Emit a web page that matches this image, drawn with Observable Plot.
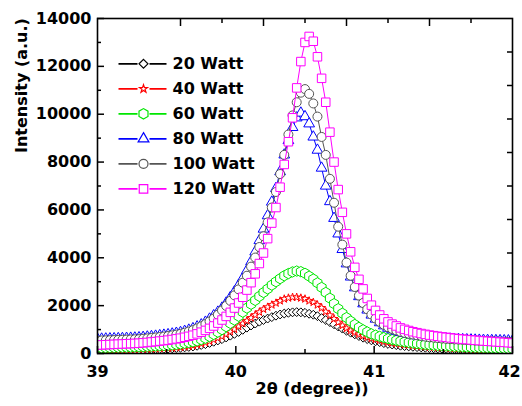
<!DOCTYPE html>
<html><head><meta charset="utf-8">
<script src="https://cdn.jsdelivr.net/npm/d3@7"></script>
<script src="https://cdn.jsdelivr.net/npm/@observablehq/plot@0.6"></script>
<style>
html,body{margin:0;padding:0;background:#fff;overflow:hidden;}
#chart{width:522px;height:406px;}
</style></head><body><div id="chart"></div>
<script>
const twoTheta = [39.00,39.03,39.06,39.09,39.12,39.15,39.18,39.21,39.24,39.27,
39.30,39.33,39.36,39.39,39.42,39.45,39.48,39.51,39.54,39.57,
39.60,39.63,39.66,39.69,39.72,39.75,39.78,39.81,39.84,39.87,
39.90,39.93,39.96,39.99,40.02,40.05,40.08,40.11,40.14,40.17,
40.20,40.23,40.26,40.29,40.32,40.35,40.38,40.41,40.44,40.47,
40.50,40.53,40.56,40.59,40.62,40.65,40.68,40.71,40.74,40.77,
40.80,40.83,40.86,40.89,40.92,40.95,40.98,41.01,41.04,41.07,
41.10,41.13,41.16,41.19,41.22,41.25,41.28,41.31,41.34,41.37,
41.40,41.43,41.46,41.49,41.52,41.55,41.58,41.61,41.64,41.67,
41.70,41.73,41.76,41.79,41.82,41.85,41.88,41.91,41.94,41.97,
42.00];

const w20 = [120,123,126,129,132,135,138,141,144,147,
150,157,165,172,180,187,195,203,215,228,
240,256,274,292,322,355,390,440,490,545,
600,670,745,820,900,990,1080,1170,1250,1330,
1400,1460,1520,1580,1630,1670,1700,1720,1730,1720,
1700,1660,1620,1560,1480,1400,1310,1220,1130,1040,
950,870,800,730,660,600,550,510,475,435,
400,375,350,325,310,295,280,266,254,242,
230,221,212,203,196,190,184,178,172,166,
160,157,154,151,148,145,142,139,136,133,
130];

const w40 = [130,134,138,142,146,150,154,158,162,166,
170,177,185,192,200,207,215,223,235,248,
260,282,306,332,370,410,455,510,580,650,
720,810,910,1010,1130,1250,1370,1490,1610,1730,
1850,1940,2030,2110,2200,2280,2320,2350,2350,2320,
2280,2200,2140,2030,1910,1750,1600,1450,1300,1170,
1050,960,880,805,740,680,630,590,550,510,
470,445,420,395,372,355,338,320,305,285,
270,261,252,243,234,225,216,207,202,196,
190,184,178,172,168,165,162,159,156,153,
150];

const w60 = [230,235,240,245,250,255,260,265,270,275,
280,288,297,306,315,325,334,345,362,381,
400,428,460,490,528,580,640,710,800,895,
1000,1125,1260,1400,1560,1730,1900,2060,2220,2390,
2550,2700,2860,3000,3130,3250,3340,3410,3445,3420,
3350,3230,3110,2950,2760,2550,2310,2080,1870,1680,
1500,1350,1210,1090,990,900,820,765,715,665,
620,582,548,512,485,462,440,415,396,378,
360,348,336,324,314,305,296,287,278,269,
260,254,248,242,236,230,224,218,212,206,
200];

const w80 = [600,605,610,615,620,625,630,636,642,650,
660,676,692,710,728,748,768,790,818,848,
880,928,980,1040,1115,1200,1310,1440,1580,1730,
1900,2110,2340,2580,2850,3150,3470,3840,4250,4720,
5200,5760,6330,6900,7600,8300,8900,9450,9850,10050,
9900,9600,9050,8500,7750,7000,6350,5650,5000,4350,
3750,3200,2750,2380,2080,1820,1610,1440,1290,1160,
1060,995,935,880,840,805,775,740,718,697,
670,655,640,625,613,604,596,588,582,576,
570,564,558,552,548,545,542,539,536,533,
530];

const w100 = [540,545,550,556,562,568,574,580,586,593,
600,616,632,650,668,688,708,730,758,788,
820,866,918,975,1050,1135,1230,1340,1460,1620,
1800,1990,2200,2430,2680,2960,3250,3630,4010,4450,
4900,5480,6100,6750,7500,8300,9150,9950,10500,10900,
11050,10850,10450,9900,9050,8300,7300,6300,5300,4550,
3800,3250,2780,2420,2110,1850,1630,1460,1320,1200,
1100,1030,965,905,860,825,795,760,735,705,
680,662,645,626,612,600,590,578,569,559,
550,541,532,523,515,509,503,497,491,486,
480];

const w120 = [350,358,366,374,382,390,398,406,414,422,
430,446,462,480,498,518,538,558,584,612,
640,678,718,764,820,890,965,1050,1150,1270,
1400,1550,1720,1900,2110,2350,2650,2960,3330,3760,
4200,4800,5450,6100,6950,7900,8850,9850,11100,12200,
13000,13250,13050,12400,11500,10500,9250,8000,6850,5900,
5000,4250,3600,3100,2700,2300,2020,1800,1610,1450,
1320,1230,1150,1070,1010,960,910,870,835,800,
770,745,720,695,675,655,635,615,600,585,
570,555,540,525,512,500,488,476,464,452,
440];

const seriesNames = ["20 Watt","40 Watt","60 Watt","80 Watt","100 Watt","120 Watt"];
const seriesValues = [w20, w40, w60, w80, w100, w120];
const seriesColors = ["#000000","#ff0000","#00e600","#0000ff","#555555","#ff00ff"];
const seriesSymbols = ["diamond2","star","hexagon","triangle","circle","square"];
const seriesR = [4, 2.5, 4.5, 4, 4.5, 4.8];

const xMajor = [39, 40, 41];
const xLast = [42];
const xMinor = [39.5, 40.5, 41.5];
const yMajor = [0, 2000, 4000, 6000, 8000, 10000, 12000, 14000];
const yMinor = [1000, 3000, 5000, 7000, 9000, 11000, 13000];
const topMajor = [39.6, 40.2, 40.8, 41.4];
const topMinor = [39.9, 40.5, 41.1, 41.7];
const rightTicks = [1400, 2800, 4200, 5600, 7000, 8400, 9800, 11200, 12600];

const FONT = "DejaVu Sans";
const tables = seriesValues.map(arr => arr.map((v, i) => ({x: twoTheta[i], y: v})));

const legendLine = {
  draw(ctx) { ctx.moveTo(-25, 0); ctx.lineTo(-6, 0); ctx.moveTo(6, 0); ctx.lineTo(23, 0); }
};

const marks = [];
tables.forEach((t, k) => {
  marks.push(Plot.line(t, {x: "x", y: "y", stroke: seriesColors[k], strokeWidth: 1, clip: true}));
  marks.push(Plot.dot(t, {x: "x", y: "y", symbol: seriesSymbols[k], r: seriesR[k], stroke: seriesColors[k], fill: "white", strokeWidth: 1, clip: true}));
});

// legend
seriesNames.forEach((name, k) => {
  const dy = 45.3 + 25 * k;
  marks.push(Plot.dot([0], {frameAnchor: "top-left", dx: 46, dy, symbol: legendLine, r: 5, stroke: seriesColors[k], strokeWidth: 1.8, fill: "none"}));
  marks.push(Plot.dot([0], {frameAnchor: "top-left", dx: 46, dy, symbol: seriesSymbols[k], r: seriesR[k], stroke: seriesColors[k], strokeWidth: 1.2, fill: "white"}));
  marks.push(Plot.text([name], {frameAnchor: "top-left", dx: 75, dy, text: d => d, textAnchor: "start", lineAnchor: "middle", fontSize: 16, fontWeight: "bold", fontFamily: FONT, fill: "black"}));
});

const blank = () => "";
const labelStyle = {fontSize: 16, fontWeight: "bold", fontFamily: FONT, fill: "black"};
marks.push(
  Plot.axisX({anchor: "bottom", ticks: [...xMajor, ...xLast], tickSize: -7, tickFormat: blank, label: null, strokeWidth: 1.5}),
  Plot.axisX({anchor: "bottom", ticks: xMinor, tickSize: -4, tickFormat: blank, label: null, strokeWidth: 1.5}),
  Plot.axisX({anchor: "top", ticks: topMajor, tickSize: -7, tickFormat: blank, label: null, strokeWidth: 1.5}),
  Plot.axisX({anchor: "top", ticks: topMinor, tickSize: -4, tickFormat: blank, label: null, strokeWidth: 1.5}),
  Plot.axisY({anchor: "left", ticks: yMajor, tickSize: -7, tickFormat: blank, label: null, strokeWidth: 1.5}),
  Plot.axisY({anchor: "left", ticks: yMinor, tickSize: -4, tickFormat: blank, label: null, strokeWidth: 1.5}),
  Plot.axisY({anchor: "right", ticks: rightTicks, tickSize: -6, tickFormat: blank, label: null, strokeWidth: 1.5}),
  Plot.axisX({anchor: "bottom", ticks: xMajor, tickSize: 0, tickPadding: 12, tickFormat: d => String(d), label: null, ...labelStyle}),
  Plot.axisX({anchor: "bottom", ticks: xLast, tickSize: 0, tickPadding: 12, dx: -3, tickFormat: d => String(d), label: null, ...labelStyle}),
  Plot.axisY({anchor: "left", ticks: yMajor, tickSize: 0, tickPadding: 6, tickFormat: d => String(d), label: null, ...labelStyle}),
  Plot.text(["Intensity (a.u.)"], {frameAnchor: "left", dx: -76, dy: -33, rotate: -90, text: d => d, ...labelStyle}),
  Plot.text(["2θ (degree))"], {frameAnchor: "bottom", dx: 7, dy: 40, text: d => d, ...labelStyle}),
  Plot.frame({stroke: "black", strokeWidth: 1.6})
);

const chart = Plot.plot({
  width: 522,
  height: 406,
  marginLeft: 97,
  marginRight: 10,
  marginTop: 18,
  marginBottom: 53,
  x: {domain: [39, 42]},
  y: {domain: [0, 14000]},
  style: {fontFamily: FONT, fontSize: "16px", background: "white", color: "black"},
  marks
});
document.getElementById("chart").appendChild(chart);
</script>
</body></html>
